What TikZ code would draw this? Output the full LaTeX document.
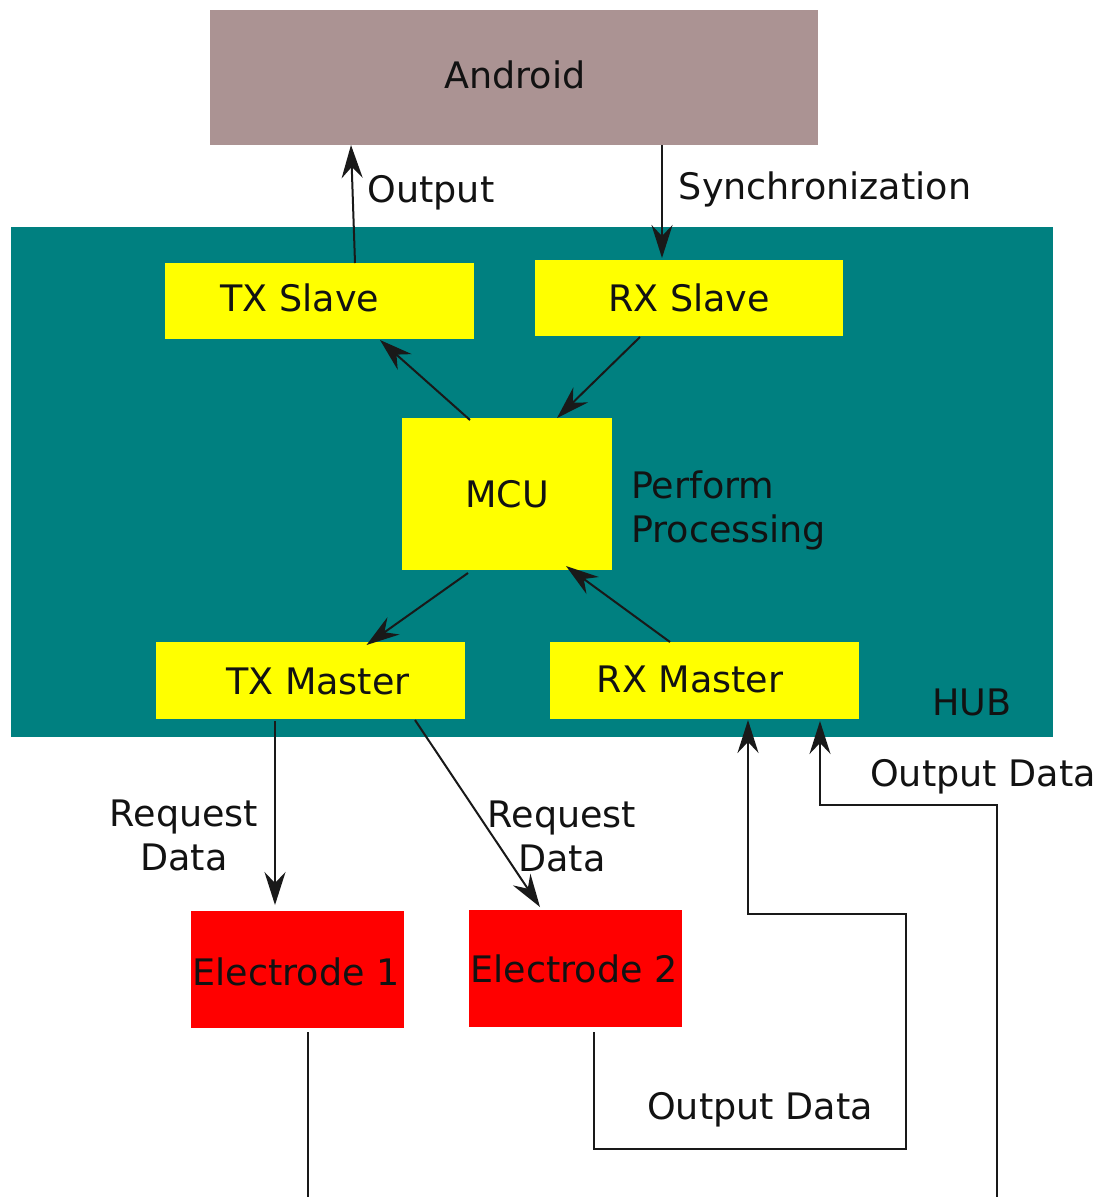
\documentclass[tikz,border=0pt]{standalone}
\usepackage{fontspec}
\setmainfont{DejaVu Sans}
\usetikzlibrary{arrows.meta}
\definecolor{androidc}{RGB}{171,147,147}
\definecolor{hubc}{RGB}{0,128,128}
\definecolor{txtc}{RGB}{18,18,18}
\definecolor{ylw}{RGB}{255,255,0}
\tikzset{
  box/.style={draw=none, inner sep=0pt, outer sep=0pt},
  ybox/.style={box, fill=ylw},
  rbox/.style={box, fill=red},
  lbl/.style={inner sep=0pt, text=txtc, font=\fontsize{36.5}{44}\selectfont},
  conn/.style={line width=2pt, draw=black!90},
  arr/.style={conn, -{Stealth[length=33pt, width=21pt, inset=11pt]}}
}
\begin{document}
\begin{tikzpicture}[x=1pt, y=-1pt]
\useasboundingbox (0,0) rectangle (1103,1197);
\fill[white] (0,0) rectangle (1103,1197);
% boxes
\node[box, fill=androidc, minimum width=608pt, minimum height=135pt] (android) at (514,77.5) {};
\node[box, fill=hubc, minimum width=1042pt, minimum height=510pt] (hub) at (532,482) {};
\node[ybox, minimum width=309pt, minimum height=76pt] (txs) at (319.5,301) {};
\node[ybox, minimum width=308pt, minimum height=76pt] (rxs) at (689,298) {};
\node[ybox, minimum width=210pt, minimum height=152pt] (mcu) at (507,494) {};
\node[ybox, minimum width=309pt, minimum height=77pt] (txm) at (310.5,680.5) {};
\node[ybox, minimum width=309pt, minimum height=77pt] (rxm) at (704.5,680.5) {};
\node[rbox, minimum width=213pt, minimum height=117pt] (el1) at (297.5,969.5) {};
\node[rbox, minimum width=213pt, minimum height=117pt] (el2) at (575.5,968.5) {};
% texts
\node[lbl] (tandroid) at (515,75) {Android};
\node[lbl] (ttxs) at (300,298) {TX Slave};
\node[lbl] (trxs) at (689,298) {RX Slave};
\node[lbl] (tmcu) at (507,494) {MCU};
\node[lbl] (ttxm) at (318,681) {TX Master};
\node[lbl] (trxm) at (690,679) {RX Master};
\node[lbl] (tel1) at (296,972) {Electrode 1};
\node[lbl] (tel2) at (574,969) {Electrode 2};
\node[lbl] (thub) at (972,702) {HUB};
\node[lbl] (tout) at (431,193) {Output};
\node[lbl] (tsync) at (825,189) {Synchronization};
\node[lbl, anchor=west, align=left] (tproc) at (631,510) {Perform\\[0pt]Processing};
\node[lbl, align=center] (treq1) at (184,835) {Request\\[0pt]Data};
\node[lbl, align=center] (treq2) at (562,836) {Request\\[0pt]Data};
\node[lbl] (tod1) at (760,1110) {Output Data};
\node[lbl] (tod2) at (983,777) {Output Data};
% free ends
\coordinate (b1) at (308,1197);
\coordinate (b2) at (997,1197);
% connectors
\draw[arr] ([xshift=35.5pt]txs.north) -- ([xshift=-163pt]android.south);
\draw[arr] ([xshift=148pt]android.south) -- ([xshift=-27pt,yshift=2pt]rxs.north);
\draw[arr] ([xshift=-37pt,yshift=-2pt]mcu.north) -- ([xshift=60.5pt,yshift=-1pt]txs.south);
\draw[arr] ([xshift=-49pt,yshift=-1pt]rxs.south) -- ([xshift=50pt]mcu.north);
\draw[arr] ([xshift=-39pt,yshift=-3pt]mcu.south) -- ([xshift=56pt,yshift=-3pt]txm.north);
\draw[arr] ([xshift=-34.5pt]rxm.north) -- ([xshift=59pt,yshift=4pt]mcu.south);
\draw[arr] ([xshift=-35.5pt,yshift=-2pt]txm.south) -- ([xshift=-22.5pt,yshift=6pt]el1.north);
\draw[arr] ([xshift=104.5pt,yshift=-1pt]txm.south) -- ([xshift=-35.5pt,yshift=3pt]el2.north);
\draw[arr] ([xshift=18.5pt,yshift=-5pt]el2.south) |- (906,1149) |- (748,914) -- ([xshift=43.5pt,yshift=-1pt]rxm.south);
\draw[arr] (b2) |- (820,805) -- ([xshift=115.5pt,yshift=-2pt]rxm.south);
\draw[conn] ([xshift=10.5pt,yshift=-4pt]el1.south) -- (b1);
\end{tikzpicture}
\end{document}
